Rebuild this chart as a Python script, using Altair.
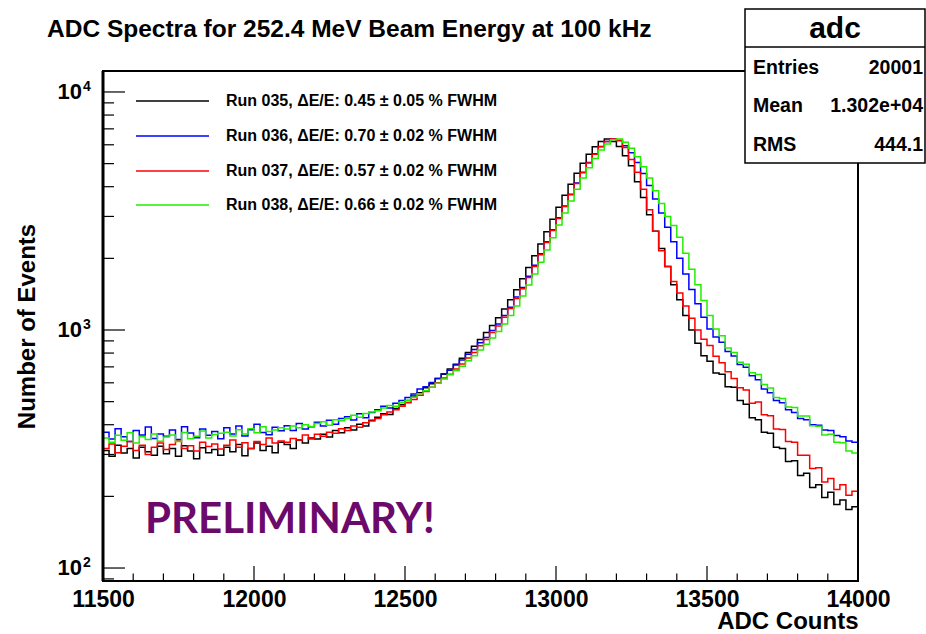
import altair as alt
import pandas as pd

# ---------------- data ----------------
TITLE = "ADC Spectra for 252.4 MeV Beam Energy at 100 kHz"
X_TITLE = "ADC Counts"
Y_TITLE = "Number of Events"
LEGEND_LABELS = [
    "Run 035, \u0394E/E: 0.45 \u00b1 0.05 % FWHM",
    "Run 036, \u0394E/E: 0.70 \u00b1 0.02 % FWHM",
    "Run 037, \u0394E/E: 0.57 \u00b1 0.02 % FWHM",
    "Run 038, \u0394E/E: 0.66 \u00b1 0.02 % FWHM",
]
COLORS = ["#000000", "#0000ff", "#ff0000", "#22ee00"]
STATS_NAME = "adc"
STATS_LABELS = ["Entries", "Mean", "RMS"]
STATS_VALUES = ["20001", "1.302e+04", "444.1"]
WATERMARK = "PRELIMINARY!"

X_MIN, X_MAX = 11500, 14000
BIN_WIDTH = 20
BIN_EDGES = list(range(X_MIN, X_MAX + 1, BIN_WIDTH))  # 126 edges -> 125 bins

X_MAJOR = [11500, 12000, 12500, 13000, 13500, 14000]
X_MINOR = [v for v in range(11600, 14000, 100) if v % 500 != 0]
Y_MAJOR = [100, 1000, 10000]
Y_EXP = ["2", "3", "4"]
Y_MINOR = [90, 200, 300, 400, 500, 600, 700, 800, 900,
           2000, 3000, 4000, 5000, 6000, 7000, 8000, 9000]
Y_DOMAIN = [88.2, 12250]

RUN_035 = [
    312, 295, 328, 304, 318, 290, 322, 308, 298, 325,
    302, 318, 295, 326, 310, 288, 320, 305, 315, 298,
    322, 308, 330, 296, 318, 335, 312, 325, 305, 338,
    330, 318, 345, 335, 352, 348, 365, 355, 378, 370,
    388, 380, 402, 395, 418, 430, 445, 442, 468, 485,
    505, 528, 545, 572, 595, 625, 652, 685, 718, 760,
    805, 855, 912, 975, 1045, 1125, 1225, 1340, 1475, 1640,
    1830, 2050, 2300, 2590, 2920, 3280, 3680, 4100, 4560, 5020,
    5480, 5880, 6200, 6350, 6200, 5900, 5400, 4900, 4200, 3600,
    3050, 2600, 2200, 1850, 1550, 1340, 1150, 1000, 880, 780,
    740, 660, 652, 578, 575, 505, 488, 428, 420, 372,
    368, 322, 318, 280, 282, 245, 250, 218, 224, 198,
    208, 185, 193, 176, 181,
]
RUN_036 = [
    372, 348, 385, 356, 340, 378, 362, 391, 350, 366,
    358, 380, 347, 392, 369, 353, 384, 361, 375, 349,
    388, 366, 395, 359, 381, 402, 371, 363, 390, 377,
    396, 378, 405, 384, 392, 410, 395, 418, 402, 425,
    432, 419, 445, 428, 450, 462, 478, 470, 492, 505,
    520, 538, 565, 577, 602, 625, 655, 678, 712, 748,
    790, 828, 885, 930, 995, 1060, 1150, 1245, 1375, 1510,
    1680, 1870, 2090, 2350, 2640, 2960, 3320, 3720, 4150, 4600,
    5050, 5500, 5900, 6200, 6350, 6250, 5950, 5550, 5050, 4550,
    4050, 3550, 3100, 2700, 2350, 2000, 1720, 1480, 1290, 1130,
    1010, 935, 888, 812, 778, 716, 698, 642, 618, 565,
    545, 505, 495, 462, 450, 425, 420, 400, 398, 380,
    378, 360, 356, 342, 338,
]
RUN_037 = [
    318, 332, 305, 325, 340, 312, 328, 300, 322, 335,
    315, 330, 342, 318, 326, 310, 338, 324, 332, 316,
    328, 345, 322, 336, 318, 340, 330, 352, 335, 342,
    338, 350, 345, 362, 348, 365, 358, 372, 368, 385,
    378, 395, 390, 408, 415, 425, 440, 452, 462, 478,
    495, 510, 532, 552, 575, 600, 628, 652, 685, 720,
    762, 805, 858, 912, 975, 1040, 1130, 1230, 1355, 1490,
    1660, 1850, 2070, 2330, 2620, 2940, 3300, 3700, 4130, 4580,
    5030, 5480, 5880, 6200, 6350, 6250, 5850, 5200, 4600, 3900,
    3200, 2600, 2150, 1850, 1600, 1430, 1260, 1120, 1000, 915,
    860, 775, 728, 668, 625, 572, 560, 492, 498, 440,
    436, 384, 382, 340, 338, 298, 298, 262, 264, 230,
    238, 214, 224, 202, 210,
]
RUN_038 = [
    352, 338, 361, 344, 370, 335, 356, 347, 366, 341,
    355, 362, 340, 371, 349, 358, 376, 352, 364, 368,
    372, 359, 381, 366, 385, 370, 392, 375, 380, 388,
    384, 395, 388, 400, 393, 405, 412, 398, 420, 416,
    425, 438, 430, 446, 452, 458, 470, 482, 478, 495,
    505, 522, 540, 556, 575, 598, 622, 648, 676, 705,
    742, 780, 825, 872, 925, 985, 1060, 1150, 1260, 1390,
    1545, 1720, 1925, 2170, 2440, 2760, 3100, 3480, 3900, 4350,
    4800, 5250, 5700, 6050, 6300, 6350, 6150, 5800, 5350, 4850,
    4350, 3850, 3400, 3000, 2750, 2450, 2100, 1800, 1550, 1330,
    1150, 1010, 945, 840, 805, 732, 718, 662, 650, 590,
    570, 520, 515, 475, 472, 435, 435, 396, 394, 362,
    365, 338, 336, 310, 304,
]
SERIES = [RUN_035, RUN_036, RUN_037, RUN_038]

# ---------------- layout ----------------
W, H = 755, 510
PAD = {"left": 103, "top": 71, "right": 68, "bottom": 53}
FONT = "Liberation Sans"

xs = alt.Scale(domain=[X_MIN, X_MAX], nice=False, zero=False)
ys = alt.Scale(type="log", domain=Y_DOMAIN, nice=False)

one = pd.DataFrame({"k": [0]})

x_axis = alt.Axis(
    values=X_MAJOR, format="d", ticks=False, domain=False, grid=False,
    labelFont=FONT, labelFontSize=23, labelFontWeight="bold", labelColor="black",
    labelPadding=7, labelFlush=False, labelOverlap=False,
    title=X_TITLE, titleFont=FONT, titleFontSize=24, titleFontWeight="bold",
    titleColor="black", titleAnchor="end", titleAlign="right",
    titleX=W, titleY=47, titleBaseline="alphabetic",
)
y_axis = alt.Axis(
    labels=False, ticks=False, domain=False, grid=False,
    title=Y_TITLE, titleFont=FONT, titleFontSize=24, titleFontWeight="bold",
    titleColor="black", titleAngle=-90, titleAlign="center",
    titleBaseline="middle", titleX=-76, titleY=H / 2,
)

layers = []

# histogram lines
for vals, col in zip(SERIES, COLORS):
    df = pd.DataFrame({"adc": BIN_EDGES, "count": vals + [vals[-1]]})
    layers.append(
        alt.Chart(df).mark_line(
            interpolate="step-after", color=col, strokeWidth=1.5, clip=True
        ).encode(
            x=alt.X("adc:Q", scale=xs, axis=x_axis),
            y=alt.Y("count:Q", scale=ys, axis=y_axis),
        )
    )

# frame
layers.append(
    alt.Chart(one).mark_rect(fillOpacity=0, stroke="black", strokeWidth=2).encode(
        x=alt.value(0), x2=alt.value(W), y=alt.value(0), y2=alt.value(H)
    )
)
layers.append(
    alt.Chart(one).mark_rule(color="black", strokeWidth=3).encode(
        x=alt.value(0), y=alt.value(0), y2=alt.value(H)
    )
)

# inward ticks
layers.append(
    alt.Chart(pd.DataFrame({"v": Y_MAJOR})).mark_rule(color="black", strokeWidth=1.2).encode(
        y=alt.Y("v:Q", scale=ys, axis=y_axis), x=alt.value(0), x2=alt.value(22)
    )
)
layers.append(
    alt.Chart(pd.DataFrame({"v": Y_MINOR})).mark_rule(color="black", strokeWidth=1.2).encode(
        y=alt.Y("v:Q", scale=ys, axis=y_axis), x=alt.value(0), x2=alt.value(11)
    )
)
layers.append(
    alt.Chart(pd.DataFrame({"v": X_MAJOR})).mark_rule(color="black", strokeWidth=1.2).encode(
        x=alt.X("v:Q", scale=xs, axis=x_axis), y=alt.value(H), y2=alt.value(H - 15)
    )
)
layers.append(
    alt.Chart(pd.DataFrame({"v": X_MINOR})).mark_rule(color="black", strokeWidth=1.2).encode(
        x=alt.X("v:Q", scale=xs, axis=x_axis), y=alt.value(H), y2=alt.value(H - 7.5)
    )
)

# y tick labels 10^n
ylab = pd.DataFrame({"v": Y_MAJOR, "e": Y_EXP})
layers.append(
    alt.Chart(ylab).mark_text(
        text="10", align="right", baseline="middle", font=FONT,
        fontSize=22, fontWeight="bold", color="black"
    ).encode(y=alt.Y("v:Q", scale=ys, axis=y_axis), x=alt.value(-21))
)
layers.append(
    alt.Chart(ylab).mark_text(
        align="left", baseline="middle", font=FONT, fontSize=14,
        fontWeight="bold", color="black", dy=-5
    ).encode(y=alt.Y("v:Q", scale=ys, axis=y_axis), x=alt.value(-20), text="e:N")
)

# legend
LEG_Y = [30, 65, 100, 134]
for lab, col, ly in zip(LEGEND_LABELS, COLORS, LEG_Y):
    layers.append(
        alt.Chart(one).mark_rule(color=col, strokeWidth=1.5).encode(
            x=alt.value(33), x2=alt.value(106), y=alt.value(ly)
        )
    )
    layers.append(
        alt.Chart(one).mark_text(
            text=lab, align="left", baseline="middle", font=FONT,
            fontSize=16, fontWeight="bold", color="black"
        ).encode(x=alt.value(123), y=alt.value(ly))
    )

# watermark
layers.append(
    alt.Chart(one).mark_text(
        text=WATERMARK, align="left", baseline="middle", font="Lato",
        fontSize=42, fontWeight="bold", color="#6b0a6b"
    ).encode(x=alt.value(42), y=alt.value(449))
)

# title
layers.append(
    alt.Chart(one).mark_text(
        text=TITLE, align="left", baseline="middle", font=FONT,
        fontSize=24.5, fontWeight="bold", color="black"
    ).encode(x=alt.value(-56), y=alt.value(-41))
)

# stats box
layers.append(
    alt.Chart(one).mark_rect(fill="white", stroke="black", strokeWidth=1.5).encode(
        x=alt.value(642), x2=alt.value(822), y=alt.value(-62), y2=alt.value(92)
    )
)
layers.append(
    alt.Chart(one).mark_rule(color="black", strokeWidth=1.5).encode(
        x=alt.value(642), x2=alt.value(822), y=alt.value(-24)
    )
)
layers.append(
    alt.Chart(one).mark_text(
        text=STATS_NAME, align="center", baseline="middle", font=FONT,
        fontSize=30, fontWeight="bold", color="black"
    ).encode(x=alt.value(732), y=alt.value(-42))
)
ROW_Y = [-3, 35, 74]
for lab, val, ry in zip(STATS_LABELS, STATS_VALUES, ROW_Y):
    layers.append(
        alt.Chart(one).mark_text(
            text=lab, align="left", baseline="middle", font=FONT,
            fontSize=19.5, fontWeight="bold", color="black"
        ).encode(x=alt.value(650), y=alt.value(ry))
    )
    layers.append(
        alt.Chart(one).mark_text(
            text=val, align="right", baseline="middle", font=FONT,
            fontSize=19.5, fontWeight="bold", color="black"
        ).encode(x=alt.value(820), y=alt.value(ry))
    )

chart = alt.layer(*layers).properties(
    width=W, height=H,
    autosize=alt.AutoSizeParams(type="none"),
    padding=PAD,
    background="white",
).configure_view(stroke=None)

chart.save("out.html", embed_options={"renderer": "svg", "actions": False})
